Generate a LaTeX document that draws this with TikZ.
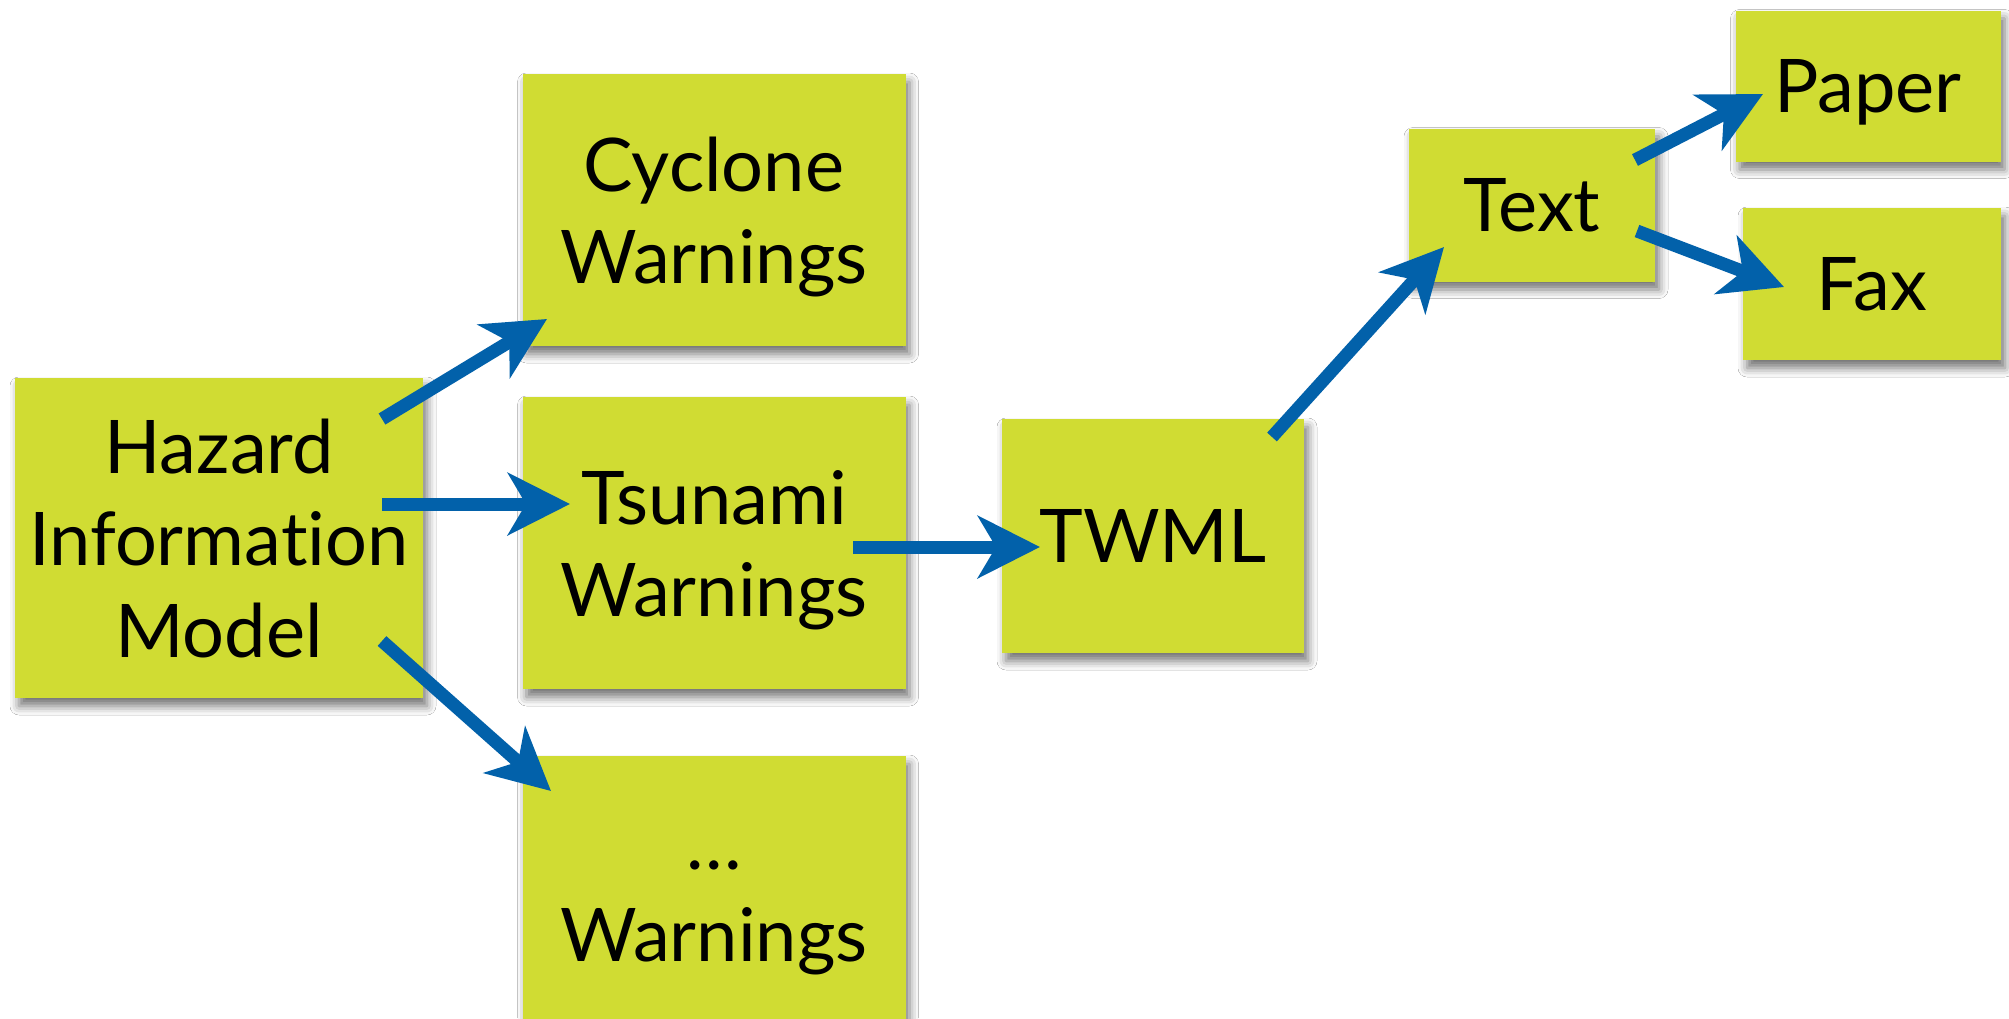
\documentclass[tikz,border=0pt]{standalone}
\usepackage{fontspec}
\setmainfont[Ligatures=NoCommon]{Lato}
\usetikzlibrary{arrows.meta,shadows.blur}
\definecolor{boxgreen}{HTML}{D0DC33}
\definecolor{arrowblue}{HTML}{0261AA}
\begin{document}
\begin{tikzpicture}[x=1pt,y=-1pt,
  box/.style={fill=boxgreen, inner sep=0pt, align=center, text depth=0pt,
    font=\fontsize{74}{92}\selectfont,
    blur shadow={shadow xshift=4pt, shadow yshift=-8pt, shadow blur radius=9pt, shadow opacity=55}},
  link/.style={draw=arrowblue, line width=13pt,
    -{Stealth[length=62pt,width=62pt,inset=18pt]}}]
\useasboundingbox (0,0) rectangle (2009,1018);
\fill[white] (0,0) rectangle (2009,1018);
% boxes
\node[box, minimum width=408pt, minimum height=320pt] (hazard) at (219,538) {Hazard\\Information\\Model};
\node[box, minimum width=383pt, minimum height=272pt] (cyclone) at (714,210) {Cyclone\\Warnings};
\node[box, minimum width=383pt, minimum height=292pt] (tsunami) at (714,543) {Tsunami\\Warnings};
\node[box, minimum width=383pt, minimum height=310pt] (other) at (714,911) {…\\Warnings};
\node[box, minimum width=302pt, minimum height=234pt] (twml) at (1153,536) {TWML};
\node[box, minimum width=246pt, minimum height=153pt] (text) at (1532,205) {Text};
\node[box, minimum width=265pt, minimum height=151pt] (paper) at (1868,86) {Paper};
\node[box, minimum width=258pt, minimum height=152pt] (fax) at (1872,284) {Fax};
% connector end points
\coordinate (h1) at (382,419); \coordinate (c1) at (547,319);
\coordinate (h2) at (382,504); \coordinate (t1) at (570,504);
\coordinate (h3) at (382,641); \coordinate (o1) at (551,791);
\coordinate (t2) at (853,547); \coordinate (w1) at (1040,547);
\coordinate (w2) at (1272,437); \coordinate (x1) at (1444,247);
\coordinate (x2) at (1635,160); \coordinate (p1) at (1763,94);
\coordinate (x3) at (1637,231); \coordinate (f1) at (1784,287);
% connectors
\draw[link] (h1) -- (c1);
\draw[link] (h2) -- (t1);
\draw[link] (h3) -- (o1);
\draw[link] (t2) -- (w1);
\draw[link] (w2) -- (x1);
\draw[link] (x2) -- (p1);
\draw[link] (x3) -- (f1);
\end{tikzpicture}
\end{document}
